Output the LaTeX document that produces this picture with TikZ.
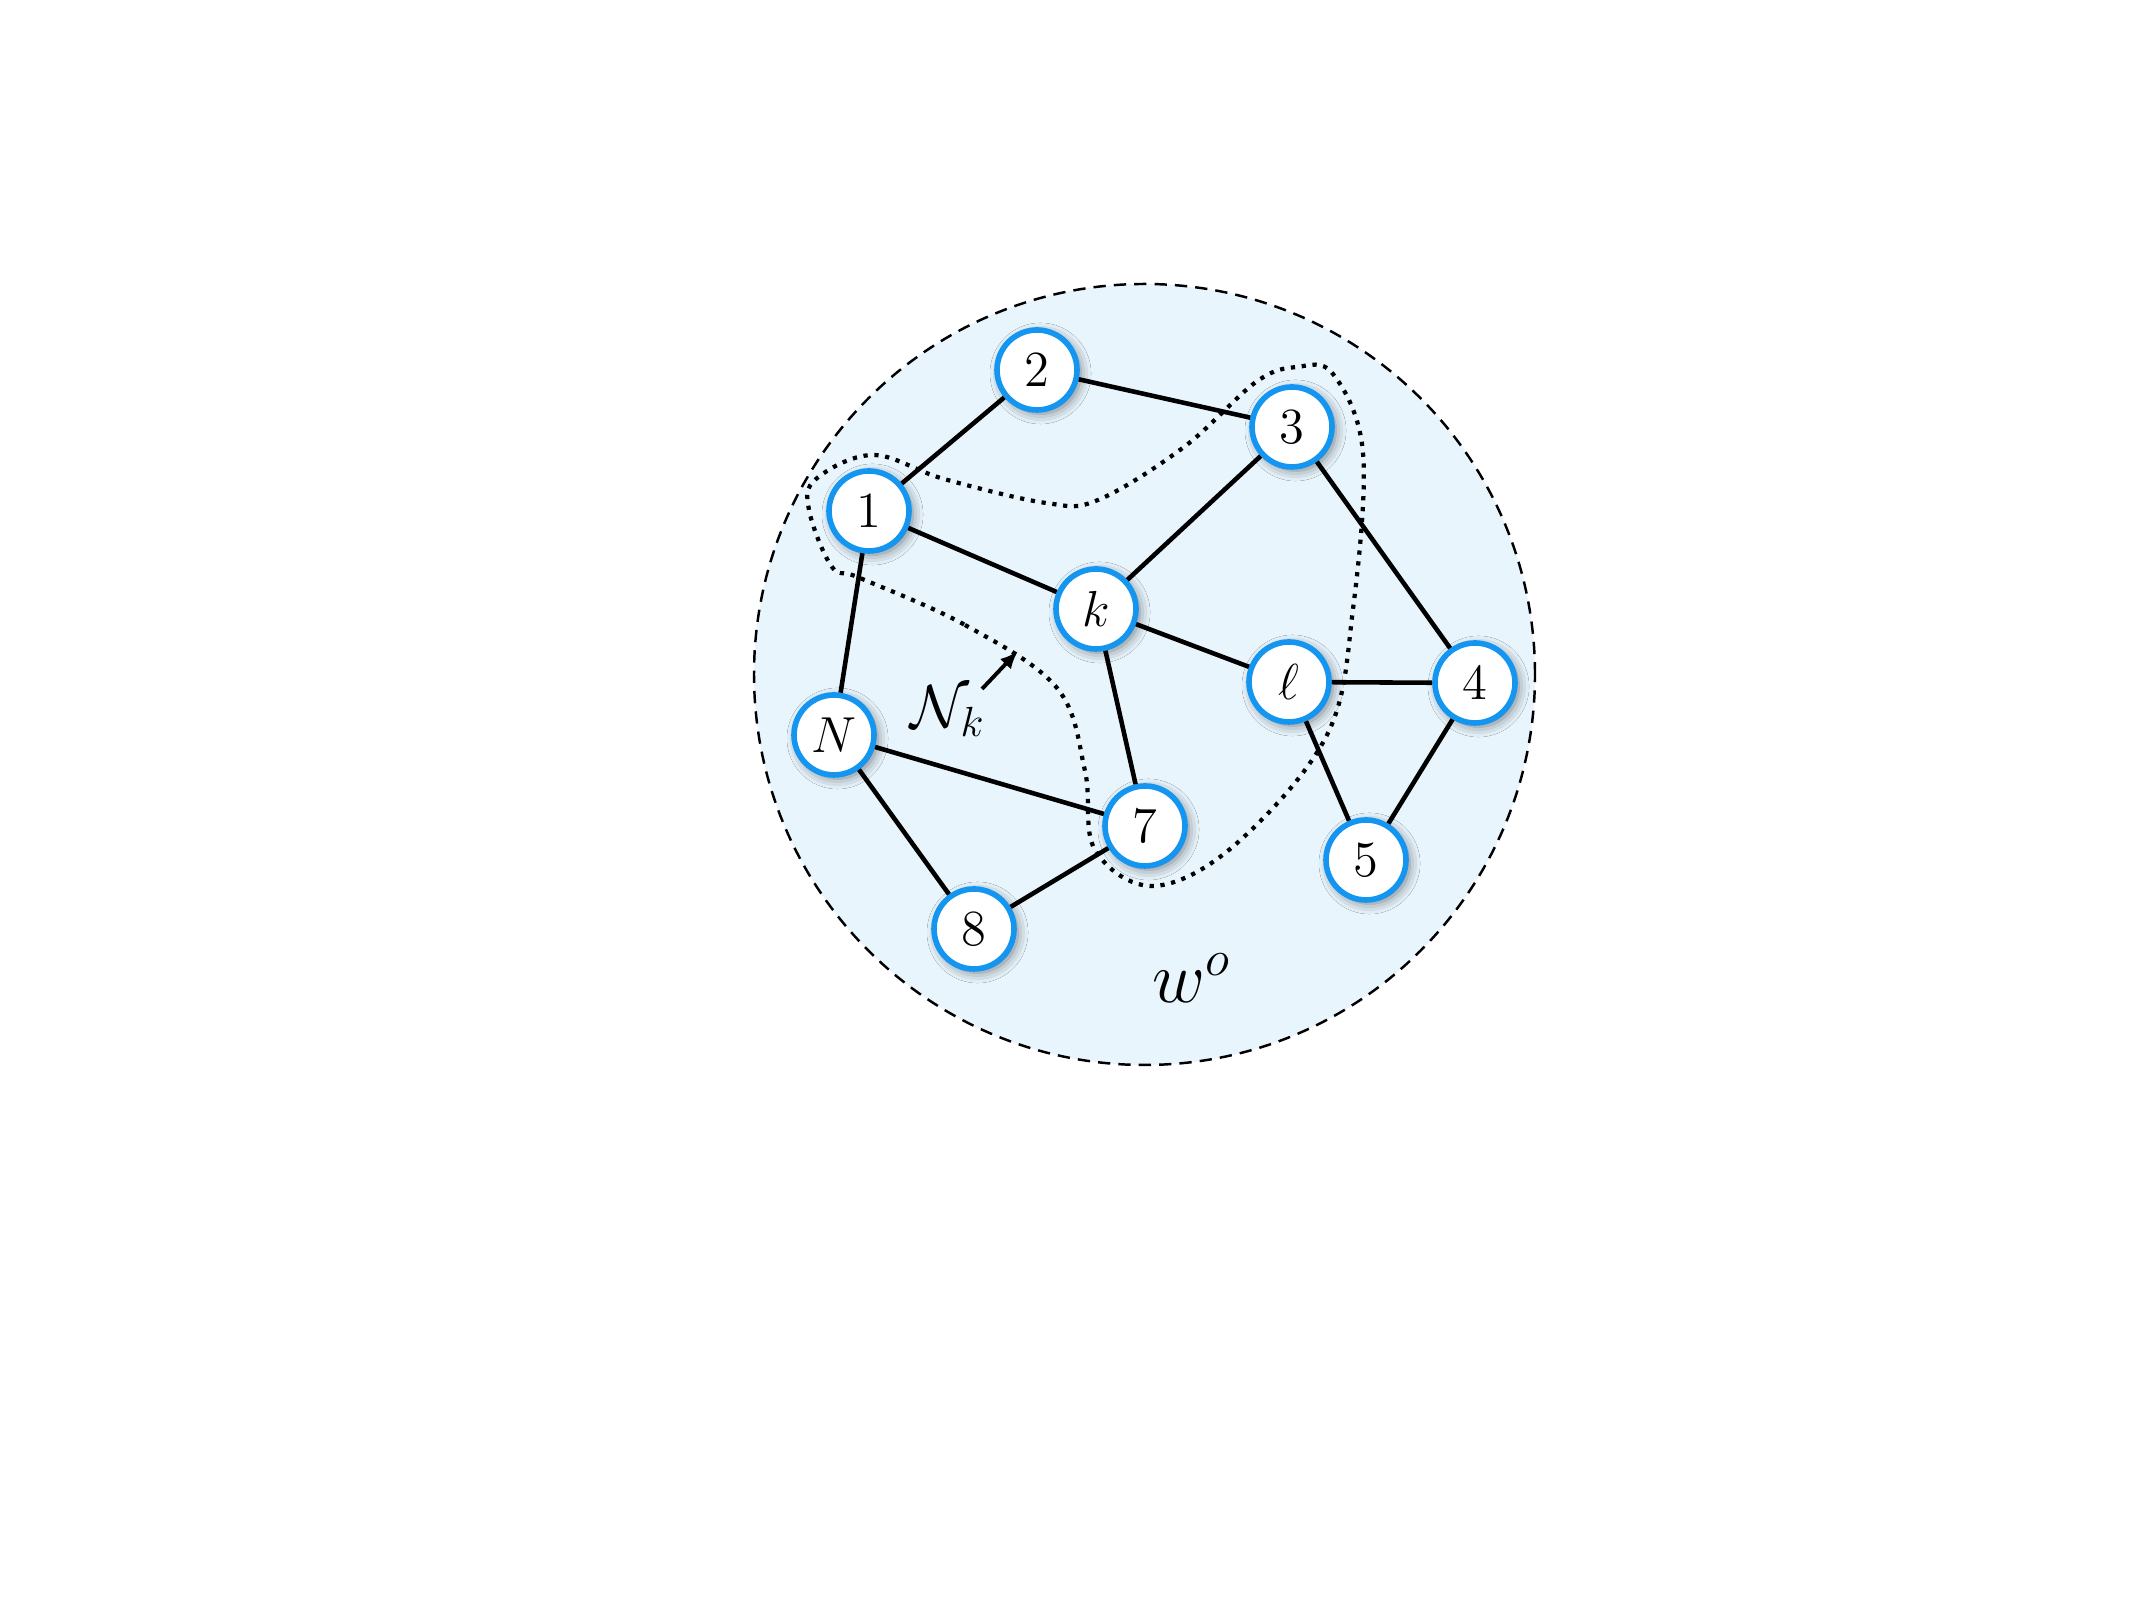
\documentclass[tikz,border=0pt]{standalone}
\usepackage{amsmath,amssymb}
\usepackage{xcolor}
\usetikzlibrary{arrows.meta,shadows.blur}
\definecolor{nodeblue}{RGB}{20,150,240}
\definecolor{diskblue}{RGB}{232,245,253}
\tikzset{
bluevertexv1/.style={circle, draw=nodeblue,fill=white,line width=1.6pt, inner sep=0pt, minimum size= 8.0mm, font=\fontsize{15}{18}\selectfont, blur shadow={shadow xshift=1pt,shadow yshift=-1pt,shadow blur radius=3pt,shadow opacity=50}},
diskv1/.style={circle, draw=black!100,fill=diskblue,dash pattern=on 3.5pt off 2.3pt,line width=0.7pt, inner sep=0pt, minimum size= 78.1cm/10},
edgev1/.style={black,line width=1.3pt},
dottedv1/.style={black,line width=1.2pt,dash pattern=on 1.2pt off 1.9pt},
}
\begin{document}
\begin{tikzpicture}
  \useasboundingbox (0,0) rectangle (21.33,16);
  \node[diskv1] at (11.445,9.255) (disk) {};

  \draw[dottedv1] plot[smooth cycle, tension=0.6] coordinates {(8.60,10.22) (9.65,9.75) (10.57,9.12) (10.85,8.29) (10.95,7.50) (11.54,7.14) (12.36,7.56) (13.27,8.65) (13.53,9.91) (13.63,11.47) (13.33,12.26) (12.97,12.33) (12.56,12.18) (11.84,11.53) (10.98,11.00) (10.46,10.97) (9.44,11.21) (8.73,11.45) (8.16,11.21) (8.09,10.90) (8.32,10.33)};

  \node[bluevertexv1] at (10.37,12.30) (v2) {$2$};
  \node[bluevertexv1] at (12.92,11.73) (v3) {$3$};
  \node[bluevertexv1] at (8.69,10.89) (v1) {$1$};
  \node[bluevertexv1] at (10.96,9.91) (k) {$k$};
  \node[bluevertexv1] at (12.89,9.18) (l) {$\ell$};
  \node[bluevertexv1] at (14.75,9.17) (v4) {$4$};
  \node[bluevertexv1] at (8.34,8.65) (N) {$N$};
  \node[bluevertexv1] at (11.45,7.74) (v7) {$7$};
  \node[bluevertexv1] at (13.66,7.40) (v5) {$5$};
  \node[bluevertexv1] at (9.74,6.71) (v8) {$8$};

  \draw[edgev1] (v1) to (v2);
  \draw[edgev1] (v2) to (v3);
  \draw[edgev1] (v1) to (k);
  \draw[edgev1] (v1) to (N);
  \draw[edgev1] (v3) to (k);
  \draw[edgev1] (v3) to (v4);
  \draw[edgev1] (k) to (l);
  \draw[edgev1] (k) to (v7);
  \draw[edgev1] (l) to (v4);
  \draw[edgev1] (l) to (v5);
  \draw[edgev1] (v4) to (v5);
  \draw[edgev1] (N) to (v7);
  \draw[edgev1] (N) to (v8);
  \draw[edgev1] (v8) to (v7);

  \node at (9.48,8.89) (Nk) {\fontsize{17}{20}\selectfont $\mathcal{N}_k$};
  \coordinate (Nktail) at (9.82,9.11);
  \coordinate (Nktip) at (10.18,9.49);
  \draw[black,line width=1.1pt,-{Latex[length=1.8mm,width=1.5mm]}] (Nktail) to (Nktip);
  \node at (11.92,6.22) (wo) {\fontsize{20}{24}\selectfont $w^o$};
\end{tikzpicture}
\end{document}
